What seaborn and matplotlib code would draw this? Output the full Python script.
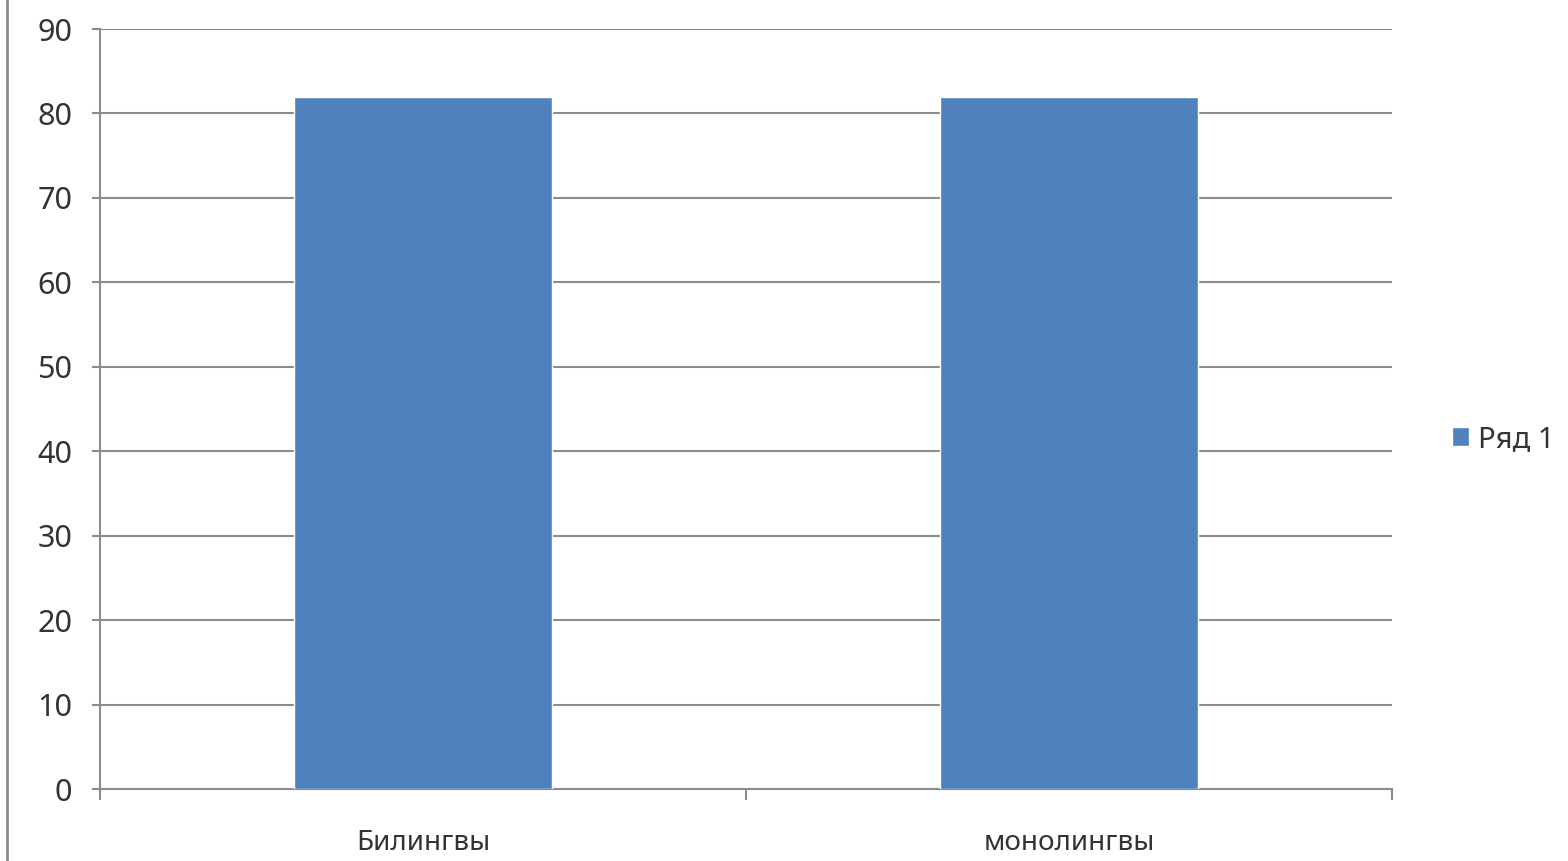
import matplotlib
matplotlib.use("Agg")
import matplotlib.pyplot as plt
import seaborn as sns
from matplotlib.lines import Line2D

categories = ["Билингвы", "монолингвы"]
values = [82, 82]
series_name = "Ряд 1"
y_ticks = [0, 10, 20, 30, 40, 50, 60, 70, 80, 90]

sns.set_style("white")
plt.rcParams["font.family"] = ["Noto Sans", "DejaVu Sans"]

fig = plt.figure(figsize=(15.68, 8.61), dpi=100)
ax = fig.add_axes([0.0638, 0.0836, 0.8240, 0.8827])

sns.barplot(x=categories, y=values, color="#4F81BD", width=0.4,
            saturation=1, label=series_name, ax=ax, zorder=3)

ax.set_ylim(0, 90)
ax.set_xlim(-0.5, 1.5)
ax.set_yticks(y_ticks)
ax.yaxis.grid(True, color="#8c8c8c", linewidth=1.5)
ax.set_axisbelow(True)

for s in ["top", "right"]:
    ax.spines[s].set_visible(False)
for s in ["left", "bottom"]:
    ax.spines[s].set_color("#8c8c8c")
    ax.spines[s].set_linewidth(1.5)

ax.tick_params(axis="y", direction="out", length=6, width=1.5, color="#8c8c8c",
               labelsize=22, labelcolor="#333333", pad=14, left=True)
ax.set_xticks([-0.5, 0.5, 1.5], minor=True)
ax.tick_params(axis="x", which="minor", direction="out", length=8, width=1.5,
               color="#8c8c8c", bottom=True)
ax.tick_params(axis="x", which="major", length=0, labelsize=20,
               labelcolor="#333333", pad=29)
ax.set_xlabel("")
ax.set_ylabel("")

ax.legend(loc="center left", bbox_to_anchor=(1.035, 0.46), frameon=False,
          fontsize=21, handlelength=0.6, handleheight=0.6, handletextpad=0.3,
          labelcolor="#333333", borderpad=0)

fig.add_artist(Line2D([0.0045, 0.0045], [0, 1], transform=fig.transFigure,
                      color="#8c8c8c", linewidth=2))

fig.savefig("out.png", dpi=100)
